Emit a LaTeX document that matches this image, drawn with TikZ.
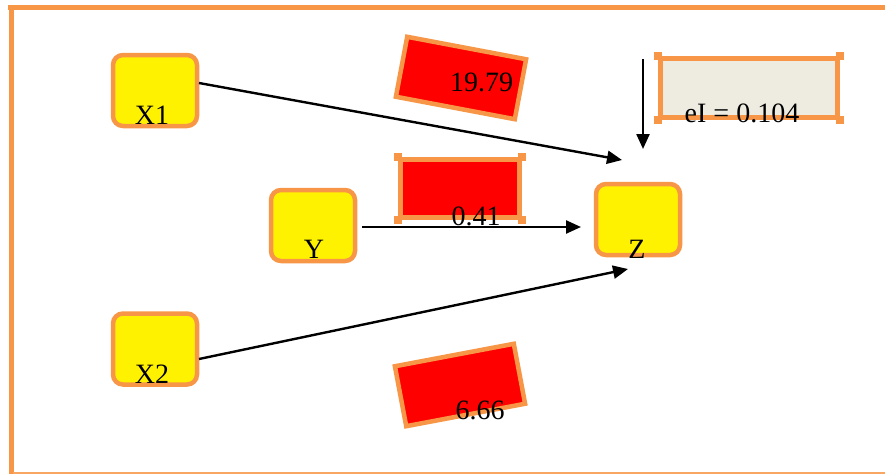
\documentclass[tikz,border=0pt]{standalone}
\usepackage{fontspec}
\setmainfont{Liberation Serif}
\usetikzlibrary{arrows.meta}
\definecolor{borange}{HTML}{F79646}
\definecolor{beige}{HTML}{EEECE1}
\begin{document}
\begin{tikzpicture}[x=1pt,y=-1pt,
  ybox/.style={draw=borange,line width=4.5pt,fill=yellow,rounded corners=10pt,minimum width=84pt,minimum height=71pt,inner sep=0pt},
  rbox/.style={draw=borange,line width=4.5pt,fill=red,inner sep=0pt},
  lbl/.style={font=\fontsize{28}{30}\selectfont,anchor=base,inner sep=0pt},
  conn/.style={line width=2.4pt,-{Triangle[length=15pt,width=13pt]}},
  tick/.style={fill=borange,minimum size=8pt,inner sep=0pt}]
\useasboundingbox (0,0) rectangle (885,474);
% frame
\fill[borange] (7.5,5) rectangle (885,10);
\fill[borange] (9,10) rectangle (13.5,474);
\draw[borange!85,line width=1.4pt] (13,472.8) -- (885,472.8);
% yellow boxes
\node[ybox] (x1) at (155,90.5) {};
\node[ybox] (y) at (313,225.5) {};
\node[ybox] (x2) at (155,349) {};
\node[ybox] (z) at (638,219.5) {};
\node[lbl] (x1t) at (152,124) {X1};
\node[lbl] (yt) at (314,258) {Y};
\node[lbl] (x2t) at (152,383) {X2};
\node[lbl] (zt) at (637,258) {Z};
% red boxes
\node[rbox,rotate=-10.7,minimum width=121pt,minimum height=61pt] (r1) at (461,78) {};
\node[rbox,minimum width=119pt,minimum height=58pt] (r2) at (460,188.5) {};
\foreach \c in {north west,north east,south west,south east}{\node[tick] at (r2.\c) {};}
\node[rbox,rotate=10.7,minimum width=121pt,minimum height=61pt] (r3) at (460,385) {};
\node[lbl] (t1) at (481.5,91) {19.79};
\node[lbl] (t2) at (476,225) {0.41};
\node[lbl] (t3) at (480,419) {6.66};
% eI box
\node[draw=borange,line width=4.5pt,fill=beige,minimum width=177pt,minimum height=59pt,inner sep=0pt] (e) at (749,88) {};
\foreach \c in {north west,north east,south west,south east}{\node[tick] at (e.\c) {};}
\node[lbl] (et) at (742,122) {eI = 0.104};
% arrows
\coordinate (a1s) at (199,83);
\coordinate (a1e) at (622,160);
\coordinate (a2s) at (362,227);
\coordinate (a2e) at (581,227);
\coordinate (a3s) at (199,359);
\coordinate (a3e) at (628,269);
\coordinate (a4s) at (643,59);
\coordinate (a4e) at (643,149);
\draw[conn] (a1s) -- (a1e);
\draw[conn] (a2s) -- (a2e);
\draw[conn] (a3s) -- (a3e);
\draw[conn] (a4s) -- (a4e);
\end{tikzpicture}
\end{document}
